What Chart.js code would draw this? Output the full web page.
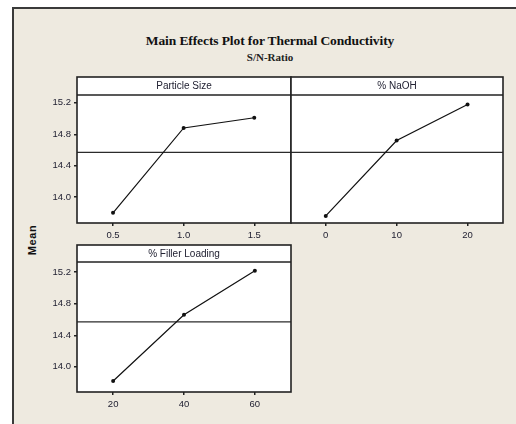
<!DOCTYPE html>
<html>
<head>
<meta charset="utf-8">
<script src="https://cdn.jsdelivr.net/npm/chart.js@4.4.1/dist/chart.umd.min.js"></script>
<style>
  html, body { margin: 0; padding: 0; background: #ffffff; width: 516px; height: 424px; overflow: hidden; }
  #frame { position: absolute; left: 12px; top: 7px; width: 520px; height: 430px;
           background: #eeeae0; border-left: 2px solid #3a3a3a; border-top: 2px solid #3a3a3a; }
  canvas.panel { position: absolute; left: 0; top: 0; }
  #title { position: absolute; left: 0; width: 540px; top: 33px; text-align: center;
           font: bold 13.5px "Liberation Serif", "Times New Roman", serif; color: #111; letter-spacing: -0.1px; }
  #subtitle { position: absolute; left: 0; width: 540px; top: 51px; text-align: center;
           font: bold 11px "Liberation Serif", "Times New Roman", serif; color: #222; letter-spacing: 0px; }
  #ylabel { position: absolute; left: 32px; top: 240px; transform: translate(-50%, -50%) rotate(-90deg);
           font: bold 11px "Liberation Sans", Arial, sans-serif; color: #111; white-space: nowrap; letter-spacing: 0.6px; }
</style>
</head>
<body>
<div id="frame"></div>
<div id="title">Main Effects Plot for Thermal Conductivity</div>
<div id="subtitle">S/N-Ratio</div>
<div id="ylabel">Mean</div>
<canvas id="c1" class="panel" width="516" height="424"></canvas>
<canvas id="c2" class="panel" width="516" height="424"></canvas>
<canvas id="c3" class="panel" width="516" height="424"></canvas>
<script>
// Factor levels and mean S/N ratio for each level
const particleSizeLevels = [0.5, 1.0, 1.5];
const particleSizeMeans  = [13.80, 14.88, 15.01];
const naohLevels = [0, 10, 20];
const naohMeans  = [13.76, 14.72, 15.18];
const fillerLevels = [20, 40, 60];
const fillerMeans  = [13.82, 14.66, 15.22];
// Overall mean reference line
const grandMean = 14.57;
const yTickValues = [14.0, 14.4, 14.8, 15.2];

const W = 516, H = 424;
const tickFont = { family: '"Liberation Sans", Arial, sans-serif', size: 9.5 };
const Y_AXIS_W = 30, X_AXIS_H = 22;

// Panel background, frame and header strip
const panelPlugin = {
  id: 'panelDecor',
  beforeDatasetsDraw(chart) {
    const { ctx, chartArea: a } = chart;
    ctx.save();
    ctx.fillStyle = '#ffffff';
    ctx.fillRect(a.left, a.top, a.right - a.left, a.bottom - a.top);
    ctx.restore();
  },
  afterDatasetsDraw(chart, args, opts) {
    const { ctx, chartArea: a } = chart;
    const hTop = a.top - opts.headerHeight;
    ctx.save();
    ctx.fillStyle = '#ffffff';
    ctx.fillRect(a.left, hTop, a.right - a.left, opts.headerHeight);
    ctx.strokeStyle = '#222222';
    ctx.lineWidth = 1.6;
    ctx.strokeRect(a.left, hTop, a.right - a.left, a.bottom - hTop);
    ctx.beginPath();
    ctx.moveTo(a.left, a.top);
    ctx.lineTo(a.right, a.top);
    ctx.stroke();
    ctx.fillStyle = '#222233';
    ctx.font = '10px "Liberation Sans", Arial, sans-serif';
    ctx.textAlign = 'center';
    ctx.textBaseline = 'middle';
    ctx.fillText(opts.header, (a.left + a.right) / 2, hTop + opts.headerHeight / 2 + 0.5);
    ctx.restore();
  }
};

function makePanel(id, cfg) {
  const pts = cfg.levels.map((x, i) => ({ x: x, y: cfg.means[i] }));
  const meanLine = [{ x: cfg.xMin, y: grandMean }, { x: cfg.xMax, y: grandMean }];
  return new Chart(document.getElementById(id), {
    type: 'line',
    data: {
      datasets: [
        { data: pts, borderColor: '#111111', borderWidth: 1.2, backgroundColor: '#111111',
          pointRadius: 2, pointHoverRadius: 2, pointBorderWidth: 0, tension: 0 },
        { data: meanLine, borderColor: '#2b2b2b', borderWidth: 1.3, pointRadius: 0, tension: 0 }
      ]
    },
    options: {
      responsive: false, animation: false, events: [],
      layout: { padding: { left: cfg.left - Y_AXIS_W, right: W - cfg.right,
                           top: cfg.top, bottom: H - cfg.bottom - X_AXIS_H } },
      plugins: { legend: { display: false }, tooltip: { enabled: false },
                 panelDecor: { header: cfg.header, headerHeight: cfg.headerHeight } },
      scales: {
        x: {
          type: 'linear', min: cfg.xMin, max: cfg.xMax,
          afterBuildTicks: s => { s.ticks = cfg.levels.map(v => ({ value: v })); },
          afterFit: s => { s.height = X_AXIS_H; },
          grid: { drawOnChartArea: false, drawTicks: true, tickLength: 3, color: '#222222', lineWidth: 1.5 },
          border: { display: false },
          ticks: { font: tickFont, color: '#222233', padding: 4, maxRotation: 0,
                   callback: v => cfg.fmt(v) }
        },
        y: {
          type: 'linear', min: cfg.yMin, max: cfg.yMax,
          afterBuildTicks: s => { s.ticks = yTickValues.map(v => ({ value: v })); },
          afterFit: s => { s.width = Y_AXIS_W; },
          grid: { drawOnChartArea: false, drawTicks: cfg.yLabels, tickLength: 3, color: '#222222', lineWidth: 1.5 },
          border: { display: false },
          ticks: { display: cfg.yLabels, font: tickFont, color: '#222233', padding: 3,
                   callback: v => v.toFixed(1) }
        }
      }
    },
    plugins: [panelPlugin]
  });
}

makePanel('c1', { levels: particleSizeLevels, means: particleSizeMeans, header: 'Particle Size',
  left: 77, right: 291, top: 95, bottom: 223, headerHeight: 18, yLabels: true,
  xMin: 0.245, xMax: 1.76, yMin: 13.67, yMax: 15.30, fmt: v => v.toFixed(1) });
makePanel('c2', { levels: naohLevels, means: naohMeans, header: '% NaOH',
  left: 291, right: 503, top: 95, bottom: 223, headerHeight: 18, yLabels: false,
  xMin: -4.9, xMax: 25, yMin: 13.67, yMax: 15.30, fmt: v => String(v) });
makePanel('c3', { levels: fillerLevels, means: fillerMeans, header: '% Filler Loading',
  left: 77, right: 291, top: 262, bottom: 392, headerHeight: 17, yLabels: true,
  xMin: 9.8, xMax: 70.2, yMin: 13.68, yMax: 15.33, fmt: v => String(v) });
</script>
</body>
</html>
